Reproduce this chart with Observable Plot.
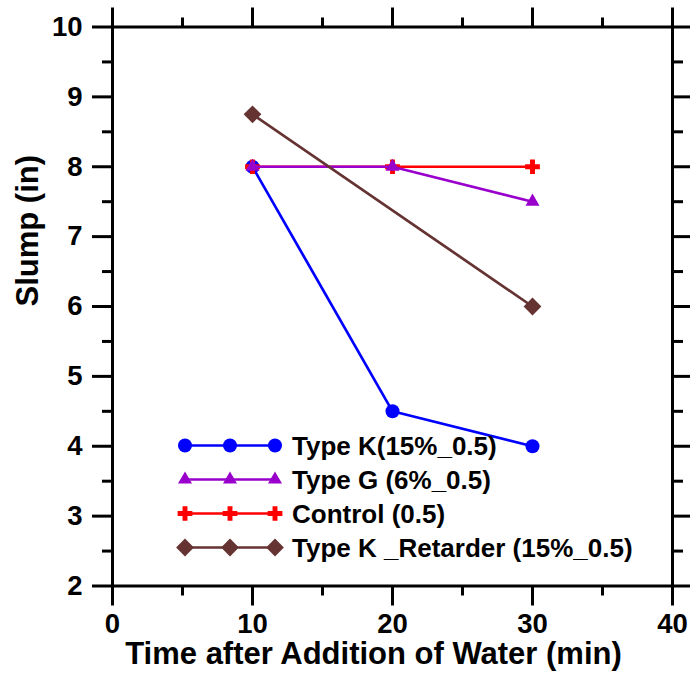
<!DOCTYPE html>
<html>
<head>
<meta charset="utf-8">
<script src="https://cdn.jsdelivr.net/npm/d3@7"></script>
<script src="https://cdn.jsdelivr.net/npm/@observablehq/plot@0.6"></script>
<style>
  html, body { margin: 0; padding: 0; background: #fff; }
  #chart { width: 690px; height: 678px; }
</style>
</head>
<body>
<div id="chart"></div>
<script>
// Slump loss over time for four concrete mixes
const time = [10, 20, 30];
const typeK = [8, 4.5, 4];
const typeG = [8, 8, 7.5];
const control = [8, 8, 8];
const retarderTime = [10, 30];
const retarder = [8.75, 6];

const seriesNames = [
  "Type K(15%_0.5)",
  "Type G (6%_0.5)",
  "Control (0.5)",
  "Type K _Retarder (15%_0.5)"
];

const xTicks = [0, 10, 20, 30, 40];
const xMinorTicks = [5, 15, 25, 35];
const yTicks = [2, 3, 4, 5, 6, 7, 8, 9, 10];
const yMinorTicks = [2.5, 3.5, 4.5, 5.5, 6.5, 7.5, 8.5, 9.5];

const xTitle = "Time after Addition of Water (min)";
const yTitle = "Slump (in)";

// Series styling, in legend order
const styles = [
  {color: "#0000ff", symbol: "circle", r: 7},
  {color: "#9900cc", symbol: "triangle", r: 5.2},
  {color: "#ff0000", symbol: "cross", r: 6.2},
  {color: "#663333", symbol: "diamond2", r: 8}
];

const rows = (xs, ys) => xs.map((x, i) => ({x, y: ys[i]}));
const series = [
  rows(time, typeK),
  rows(time, typeG),
  rows(time, control),
  rows(retarderTime, retarder)
];

// Drawing order: K, Control, G, Retarder (G sits on top of Control)
const drawOrder = [0, 2, 1, 3];

const seriesMarks = drawOrder.flatMap((i) => [
  Plot.line(series[i], {x: "x", y: "y", stroke: styles[i].color, strokeWidth: 2.7}),
  Plot.dot(series[i], {
    x: "x", y: "y", symbol: () => styles[i].symbol, r: styles[i].r,
    fill: styles[i].color, stroke: "none"
  })
]);

const blank = () => "";
const plain = (d) => String(d);
const font = "Liberation Sans, Arial, Helvetica, sans-serif";

const chart = Plot.plot({
  width: 690,
  height: 678,
  marginLeft: 112,
  marginRight: 18,
  marginTop: 26.5,
  marginBottom: 92.5,
  style: {fontFamily: font, fontWeight: "bold", background: "#fff", color: "#000"},
  x: {domain: [0, 40], label: null},
  y: {domain: [2, 10], label: null},
  symbol: {type: "identity"},
  marks: [
    // major and minor ticks on all four sides, pointing outward
    Plot.axisX(xTicks, {anchor: "bottom", tickSize: 20, tickPadding: 7, strokeWidth: 3, fontSize: 27.5, tickFormat: plain, label: null}),
    Plot.axisX(xMinorTicks, {anchor: "bottom", tickSize: 10, strokeWidth: 3, tickFormat: blank, label: null}),
    Plot.axisX(xTicks, {anchor: "top", tickSize: 20, strokeWidth: 3, tickFormat: blank, label: null}),
    Plot.axisX(xMinorTicks, {anchor: "top", tickSize: 10, strokeWidth: 3, tickFormat: blank, label: null}),
    Plot.axisY(yTicks, {anchor: "left", tickSize: 20, tickPadding: 10, strokeWidth: 3, fontSize: 27.5, tickFormat: plain, label: null}),
    Plot.axisY(yMinorTicks, {anchor: "left", tickSize: 10, strokeWidth: 3, tickFormat: blank, label: null}),
    Plot.axisY(yTicks, {anchor: "right", tickSize: 20, strokeWidth: 3, tickFormat: blank, label: null}),
    Plot.axisY(yMinorTicks, {anchor: "right", tickSize: 10, strokeWidth: 3, tickFormat: blank, label: null}),
    Plot.frame({stroke: "#000", strokeWidth: 3}),
    ...seriesMarks,
    // axis titles
    Plot.text([xTitle], {frameAnchor: "bottom", dx: -19, dy: 68, fontSize: 31, fontWeight: "bold", lineAnchor: "middle"}),
    Plot.text([yTitle], {frameAnchor: "left", dx: -84, rotate: -90, fontSize: 31, fontWeight: "bold", lineAnchor: "middle"})
  ]
});

document.getElementById("chart").appendChild(chart);

// In-frame legend: three markers joined by a line, then the series name
const svg = d3.select(chart);
const frameLeft = 112, frameBottom = 678 - 92.5;
const legend = svg.append("g")
  .attr("font-family", font)
  .attr("font-weight", "bold")
  .attr("font-size", 26)
  .attr("text-anchor", "start");
const markerXs = [73, 118, 163].map((d) => frameLeft + d);
seriesNames.forEach((name, i) => {
  const y = frameBottom - 140 + i * 34;
  const s = styles[i];
  const row = legend.append("g");
  row.append("line")
    .attr("x1", markerXs[0]).attr("x2", markerXs[2])
    .attr("y1", y).attr("y2", y)
    .attr("stroke", s.color).attr("stroke-width", 2.7);
  const symbolType = {
    circle: d3.symbolCircle, triangle: d3.symbolTriangle,
    cross: d3.symbolCross, diamond2: d3.symbolDiamond2
  }[s.symbol];
  const path = d3.symbol(symbolType, Math.PI * s.r * s.r)();
  markerXs.forEach((mx) => {
    row.append("path").attr("d", path)
      .attr("transform", `translate(${mx},${y})`)
      .attr("fill", s.color);
  });
  row.append("text")
    .attr("x", frameLeft + 180).attr("y", y)
    .attr("dy", "0.36em")
    .attr("fill", "#000")
    .text(name);
});
</script>
</body>
</html>
